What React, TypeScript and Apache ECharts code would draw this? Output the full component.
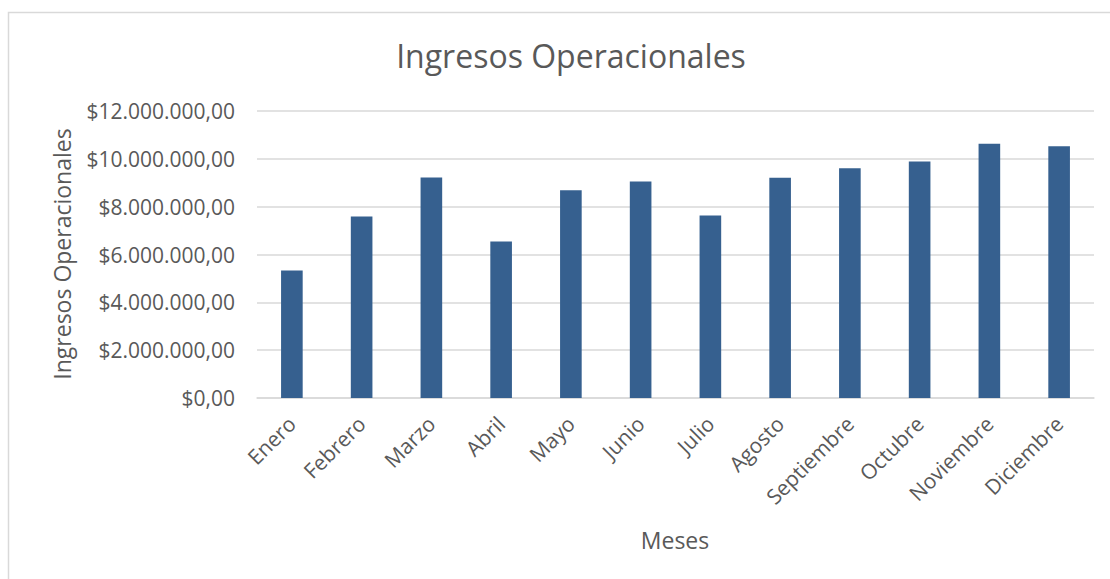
import React, { useEffect, useRef } from "react";
import * as echarts from "echarts";

const months = ["Enero", "Febrero", "Marzo", "Abril", "Mayo", "Junio", "Julio", "Agosto", "Septiembre", "Octubre", "Noviembre", "Diciembre"];
const ingresos = [5330000, 7590000, 9220000, 6540000, 8690000, 9050000, 7630000, 9210000, 9610000, 9890000, 10630000, 10530000];
const yTicks = [0, 2000000, 4000000, 6000000, 8000000, 10000000, 12000000];

const chartTitle = "Ingresos Operacionales";
const yTitle = "Ingresos Operacionales";
const xTitle = "Meses";

function fmt(v: number): string {
  const s = Math.round(v).toString().replace(/\B(?=(\d{3})+(?!\d))/g, ".");
  return "$" + s + ",00";
}

const FONT = "'Open Sans', 'Noto Sans', sans-serif";
const TXT = "#595959";

export default function App() {
  const ref = useRef<HTMLDivElement>(null);
  useEffect(() => {
    if (!ref.current) return;
    const chart = echarts.init(ref.current, undefined, { renderer: "svg" });
    chart.setOption({
      animation: false,
      backgroundColor: "#ffffff",
      textStyle: { fontFamily: FONT },
      title: {
        text: chartTitle,
        left: 566,
        textAlign: "center",
        top: 34,
        textStyle: { fontFamily: FONT, fontSize: 32, fontWeight: "normal", color: TXT },
      },
      graphic: [
        {
          type: "rect",
          shape: { x: 8.5, y: 12.5, width: 1200, height: 700 },
          style: { fill: "none", stroke: "#d9d9d9", lineWidth: 1.5 },
          silent: true,
        },
        {
          type: "text",
          x: 62,
          y: 254,
          rotation: Math.PI / 2,
          style: {
            text: yTitle,
            fill: TXT,
            font: "23px 'Open Sans', sans-serif",
            textAlign: "center",
            textVerticalAlign: "middle",
          },
        },
        {
          type: "text",
          x: 675,
          y: 540,
          style: {
            text: xTitle,
            fill: TXT,
            font: "23px 'Open Sans', sans-serif",
            textAlign: "center",
            textVerticalAlign: "middle",
          },
        },
      ],
      grid: { left: 257, right: 16, top: 111, bottom: 181, containLabel: false },
      xAxis: {
        type: "category",
        data: months,
        axisLine: { lineStyle: { color: "#d9d9d9", width: 1.5 } },
        axisTick: { show: false },
        axisLabel: {
          rotate: 45,
          color: TXT,
          fontSize: 21,
          fontFamily: FONT,
          interval: 0,
          margin: 22,
        },
      },
      yAxis: {
        type: "value",
        min: yTicks[0],
        max: yTicks[yTicks.length - 1],
        interval: yTicks[1] - yTicks[0],
        axisLine: { show: false },
        axisTick: { show: false },
        splitLine: { lineStyle: { color: "#d9d9d9", width: 1.5 } },
        axisLabel: {
          color: TXT,
          fontSize: 21,
          fontFamily: FONT,
          margin: 22,
          formatter: (v: number) => fmt(v),
        },
      },
      series: [
        {
          type: "bar",
          data: ingresos,
          barWidth: "31%",
          itemStyle: { color: "#36608F" },
        },
      ],
    });
    return () => chart.dispose();
  }, []);
  return (
    <div
      ref={ref}
      style={{ position: "fixed", left: 0, top: 0, width: 1110, height: 579 }}
    />
  );
}
